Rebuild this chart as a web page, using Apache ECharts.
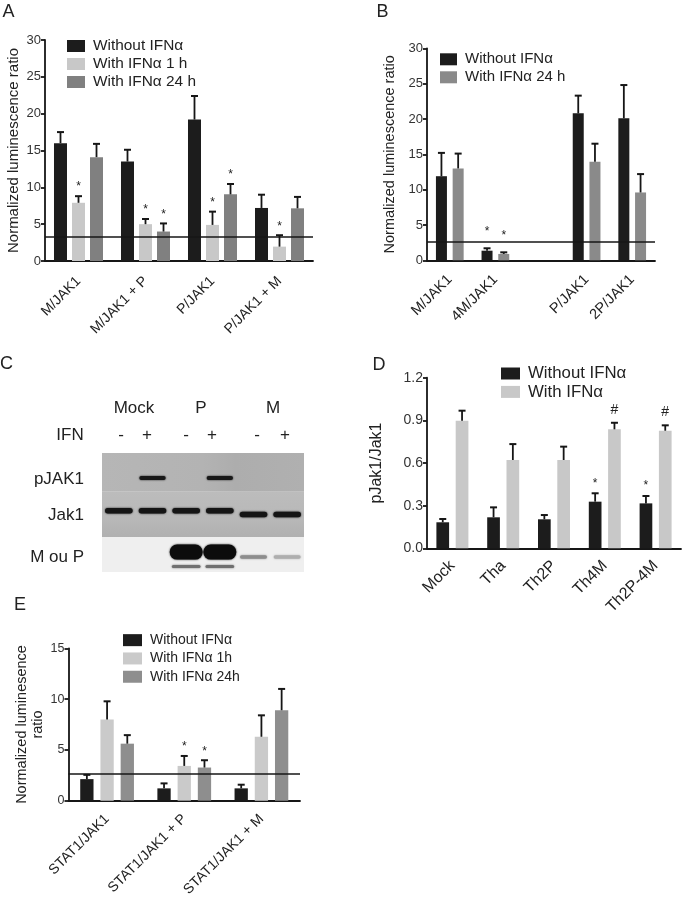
<!DOCTYPE html>
<html><head><meta charset="utf-8">
<script src="https://cdn.jsdelivr.net/npm/echarts@6/dist/echarts.min.js"></script>
<style>html,body{margin:0;padding:0;background:#fff}#c{width:685px;height:899px}</style>
</head><body><div id="c"></div>
<script>
// ---------------- DATA ----------------
// Panel A
const catsA = ['M/JAK1', 'M/JAK1 + P', 'P/JAK1', 'P/JAK1 + M'];
const aWithout = [16.0, 13.5, 19.2, 7.2];
const aWithoutErr = [17.5, 15.1, 22.4, 9.0];
const a1h = [7.9, 5.0, 4.9, 1.95];
const a1hErr = [8.8, 5.7, 6.7, 3.5];
const a24h = [14.1, 4.0, 9.05, 7.15];
const a24hErr = [15.9, 5.1, 10.45, 8.7];
const aMarksWithout = ['', '', '', ''];
const aMarks1h = ['*', '*', '*', '*'];
const aMarks24h = ['', '*', '*', ''];
const aThreshold = 3.3;
const namesA = ['Without IFNα', 'With IFNα 1 h', 'With IFNα 24 h'];

// Panel B
const catsB = ['M/JAK1', '4M/JAK1', '', 'P/JAK1', '2P/JAK1'];
const bWithout = [11.9, 1.36, '-', 20.8, 20.1];
const bWithoutErr = [15.2, 1.7, '-', 23.3, 24.8];
const b24h = [13.0, 0.9, '-', 13.95, 9.6];
const b24hErr = [15.1, 1.13, '-', 16.5, 12.2];
const bMarksWithout = ['', '*', '', '', ''];
const bMarks24h = ['', '*', '', '', ''];
const bThreshold = 2.6;
const namesB = ['Without IFNα', 'With IFNα 24 h'];

// Panel C (western blot)
const blotGroups = ['Mock', 'P', 'M'];
const blotIFN = ['-', '+', '-', '+', '-', '+'];
const blotRows = ['pJAK1', 'Jak1', 'M ou P'];
const bandPJAK1 = [0, 1, 0, 1, 0, 0];
const bandJAK1 = [1, 1, 1, 1, 1, 1];
const bandMP = [0, 0, 1, 1, 0.45, 0.3];

// Panel D
const catsD = ['Mock', 'Tha', 'Th2P', 'Th4M', 'Th2P-4M'];
const dWithout = [0.183, 0.218, 0.204, 0.328, 0.316];
const dWithoutErr = [0.206, 0.288, 0.234, 0.387, 0.368];
const dWith = [0.897, 0.621, 0.621, 0.837, 0.827];
const dWithErr = [0.968, 0.733, 0.715, 0.883, 0.865];
const dMarksWithout = ['', '', '', '*', '*'];
const dMarksWith = ['', '', '', '#', '#'];
const namesD = ['Without IFNα', 'With IFNα'];

// Panel E
const catsE = ['STAT1/JAK1', 'STAT1/JAK1 + P', 'STAT1/JAK1 + M'];
const eWithout = [2.12, 1.21, 1.21];
const eWithoutErr = [2.54, 1.70, 1.57];
const e1h = [7.99, 3.42, 6.29];
const e1hErr = [9.78, 4.4, 8.4];
const e24h = [5.61, 3.26, 8.9];
const e24hErr = [6.45, 3.98, 11.0];
const eMarksWithout = ['', '', ''];
const eMarks1h = ['', '*', ''];
const eMarks24h = ['', '*', ''];
const eThreshold = 2.6;
const namesE = ['Without IFNα', 'With IFNα 1h', 'With IFNα 24h'];

// ---------------- STYLE ----------------
const FONT = '"Liberation Sans", Arial, Helvetica, sans-serif';
const INK = '#161616';
const TXT = '#222222';
const BLACK = '#1c1c1c', LIGHT = '#c8c8c8', DARK = '#808080', MID = '#8a8a8a';

function catX(gi, cats, fs, margin) {
  return {
    type: 'category', gridIndex: gi, data: cats,
    axisLine: { lineStyle: { color: INK, width: 1.8 } },
    axisTick: { alignWithLabel: true, length: 5, lineStyle: { color: INK, width: 1.8 } },
    axisLabel: { rotate: 45, interval: 0, fontSize: fs, color: TXT, fontFamily: FONT, margin: margin },
    splitLine: { show: false }
  };
}
function valY(gi, max, interval, fs, name, nfs, gap, dec) {
  return {
    type: 'value', gridIndex: gi, min: 0, max: max, interval: interval,
    name: name, nameLocation: 'middle', nameGap: gap,
    nameTextStyle: { fontSize: nfs, color: TXT, fontFamily: FONT, lineHeight: nfs * 1.15 },
    axisLine: { show: true, lineStyle: { color: INK, width: 1.8 } },
    axisTick: { show: true, length: 4, lineStyle: { color: INK, width: 1.8 } },
    axisLabel: { fontSize: fs, color: '#333', fontFamily: FONT, margin: 4,
      formatter: v => dec ? v.toFixed(dec) : String(v) },
    splitLine: { show: false }
  };
}
function bars(name, ai, data, color, bw, gap, thr) {
  const s = {
    type: 'bar', name: name, xAxisIndex: ai, yAxisIndex: ai, data: data,
    barWidth: bw, barGap: gap, itemStyle: { color: color }, silent: true, z: 2
  };
  if (thr !== undefined) {
    s.markLine = { silent: true, symbol: 'none', label: { show: false },
      lineStyle: { color: INK, width: 1.6, type: 'solid' }, data: [{ yAxis: thr }], z: 5 };
  }
  return s;
}
function errs(ai, vals, tops, k, n, bw, gap, marks, markGap, markFs) {
  const data = vals.map((v, i) => [i, v, tops[i]]).filter(d => d[1] !== '-');
  return {
    type: 'custom', xAxisIndex: ai, yAxisIndex: ai, data: data, z: 4, silent: true, clip: false,
    renderItem: (params, api) => {
      const i = api.value(0);
      const p0 = api.coord([i, api.value(1)]);
      const p1 = api.coord([i, api.value(2)]);
      const x = p0[0] + (k - (n - 1) / 2) * bw * (1 + gap);
      const ch = [
        { type: 'line', shape: { x1: x, y1: p0[1], x2: x, y2: p1[1] }, style: { stroke: INK, lineWidth: 1.8 } },
        { type: 'line', shape: { x1: x - 3.5, y1: p1[1], x2: x + 3.5, y2: p1[1] }, style: { stroke: INK, lineWidth: 2 } }
      ];
      const m = marks[i];
      if (m) {
        ch.push({ type: 'text', style: { text: m, x: x, y: p1[1] - markGap + (m === '*' ? 3 : 0),
          align: 'center', verticalAlign: 'middle', fontSize: m === '*' ? markFs : markFs + 2,
          fill: TXT, fontFamily: FONT } });
      }
      return { type: 'group', children: ch };
    }
  };
}
function legend(names, colors, left, top, iw, fs, lh) {
  return {
    orient: 'vertical', left: left, top: top, itemWidth: iw, itemHeight: 12, itemGap: 0,
    icon: 'rect', selectedMode: false, padding: 0,
    textStyle: { fontSize: fs, color: TXT, fontFamily: FONT, lineHeight: lh, padding: [0, 0, 0, 3] },
    data: names.map((nm, i) => ({ name: nm, itemStyle: { color: colors[i] } }))
  };
}

// Blot rendering
const blotData = [];
blotRows.forEach((r, ri) => blotData.push([0, ri, 0, 0]));
[bandPJAK1, bandJAK1, bandMP].forEach((arr, ri) =>
  arr.forEach((v, li) => { if (v > 0) blotData.push([1, ri, li, v]); }));

const rowEdges = [0, 0.98, 2.12, 3];
const stripFill = [
  { type: 'linear', x: 0, y: 0, x2: 1, y2: 0, colorStops: [
    { offset: 0, color: '#b6b6b6' }, { offset: 0.5, color: '#b3b3b3' }, { offset: 0.66, color: '#adadad' }, { offset: 1, color: '#b0b0b0' }] },
  { type: 'linear', x: 0, y: 0, x2: 0, y2: 1, colorStops: [
    { offset: 0, color: '#bcbcbc' }, { offset: 0.6, color: '#b8b8b8' }, { offset: 1, color: '#b0b0b0' }] },
  '#efefef'
];
function blotItem(params, api) {
  const type = api.value(0), r = api.value(1), l = api.value(2), inten = api.value(3);
  const tl = api.coord([0, rowEdges[r]]), br = api.coord([6, rowEdges[r + 1]]);
  const rh = br[1] - tl[1];
  if (type === 0) {
    return { type: 'rect', shape: { x: tl[0], y: tl[1], width: br[0] - tl[0], height: rh }, style: { fill: stripFill[r] } };
  }
  const lL = api.coord([l, 0])[0], lR = api.coord([l + 1, 0])[0];
  const lw = lR - lL, cx = (lL + lR) / 2;
  const ch = [];
  const band = (wf, th, cf, col, blur) => ch.push({
    type: 'rect', shape: { x: cx - lw * wf / 2, y: tl[1] + cf * rh - th / 2, width: lw * wf, height: th, r: th / 2 },
    style: { fill: col, shadowBlur: blur, shadowColor: col }
  });
  if (r === 0) band(0.78, 4, 0.64, '#181818', 2);
  else if (r === 1) band(0.82, 5.5, l >= 4 ? 0.5 : 0.42, '#151515', 2);
  else {
    if (inten >= 0.9) {
      band(0.98, 15, 0.43, '#0c0c0c', 2);
      band(0.85, 3, 0.84, '#707070', 2);
    } else {
      const g = Math.round(240 - inten * 220);
      const c = 'rgb(' + g + ',' + g + ',' + g + ')';
      band(0.8, 3.5, 0.57, c, 2);
    }
  }
  return { type: 'group', children: ch };
}

// ---------------- TEXT (graphic) ----------------
const gText = (t, x, y, fs, align) => ({ type: 'text', x: x, y: y, silent: true,
  style: { text: t, fontSize: fs, fontFamily: FONT, fill: TXT, align: align || 'center', verticalAlign: 'middle' } });
const graphics = [
  gText('A', 8.5, 12.5, 18), gText('B', 382.5, 12.5, 18), gText('C', 6.5, 364, 18),
  gText('D', 379, 365, 18), gText('E', 20, 605, 18),
  gText(blotGroups[0], 134, 408, 17), gText(blotGroups[1], 201, 408, 17), gText(blotGroups[2], 273, 408, 17),
  gText('IFN', 70, 435, 17)
];
const signX = [121, 147, 186, 212, 257, 285];
blotIFN.forEach((s, i) => graphics.push(gText(s, signX[i], 435, 17)));
const rowLabelY = [479, 515, 557];
blotRows.forEach((s, i) => graphics.push(gText(s, 84, rowLabelY[i], 17, 'right')));

// ---------------- OPTION ----------------
const option = {
  animation: false,
  backgroundColor: '#fff',
  grid: [
    { left: 45, top: 40, width: 268, height: 221 },
    { left: 427, top: 48.3, width: 228, height: 212 },
    { left: 102, top: 453, width: 202, height: 119 },
    { left: 427, top: 377.7, width: 254, height: 170.6 },
    { left: 68.5, top: 648.3, width: 231.5, height: 153.4 }
  ],
  xAxis: [
    catX(0, catsA, 14, 18),
    catX(1, catsB, 14.5, 17),
    { type: 'value', gridIndex: 2, min: 0, max: 6, show: false },
    catX(3, catsD, 16, 15),
    catX(4, catsE, 14, 16)
  ],
  yAxis: [
    valY(0, 30, 5, 13, 'Normalized luminescence ratio', 15, 21),
    valY(1, 30, 5, 13, 'Normalized luminescence ratio', 14.5, 29),
    { type: 'value', gridIndex: 2, min: 0, max: 3, inverse: true, show: false },
    valY(3, 1.2, 0.3, 14, 'pJak1/Jak1', 16, 41, 1),
    valY(4, 15, 5, 12.5, 'Normalized luminesence\nratio', 14.5, 18)
  ],
  legend: [
    legend(namesA, [BLACK, LIGHT, DARK], 67, 37, 18, 15.4, 18),
    legend(namesB, [BLACK, MID], 440, 50.3, 17, 15, 18),
    legend(namesD, [BLACK, LIGHT], 501, 364.3, 19, 16.8, 18.4),
    legend(namesE, [BLACK, '#cacaca', '#8e8e8e'], 123, 631, 19, 14, 18.3)
  ],
  graphic: graphics,
  series: [
    // A
    bars(namesA[0], 0, aWithout, BLACK, 13, 0.385, aThreshold),
    bars(namesA[1], 0, a1h, LIGHT, 13, 0.385),
    bars(namesA[2], 0, a24h, DARK, 13, 0.385),
    errs(0, aWithout, aWithoutErr, 0, 3, 13, 0.385, aMarksWithout, 12, 12),
    errs(0, a1h, a1hErr, 1, 3, 13, 0.385, aMarks1h, 12, 12),
    errs(0, a24h, a24hErr, 2, 3, 13, 0.385, aMarks24h, 12, 12),
    // B
    bars(namesB[0], 1, bWithout, BLACK, 11, 0.52, bThreshold),
    bars(namesB[1], 1, b24h, MID, 11, 0.52),
    errs(1, bWithout, bWithoutErr, 0, 2, 11, 0.52, bMarksWithout, 20, 12),
    errs(1, b24h, b24hErr, 1, 2, 11, 0.52, bMarks24h, 20, 12),
    // C blot
    { type: 'custom', xAxisIndex: 2, yAxisIndex: 2, data: blotData, renderItem: blotItem, silent: true, clip: false, z: 1 },
    // D
    bars(namesD[0], 3, dWithout, BLACK, 12.7, 0.52),
    bars(namesD[1], 3, dWith, LIGHT, 12.7, 0.52),
    errs(3, dWithout, dWithoutErr, 0, 2, 12.7, 0.52, dMarksWithout, 13, 12),
    errs(3, dWith, dWithErr, 1, 2, 12.7, 0.52, dMarksWith, 13, 12),
    // E
    bars(namesE[0], 4, eWithout, BLACK, 13.3, 0.52, eThreshold),
    bars(namesE[1], 4, e1h, '#cacaca', 13.3, 0.52),
    bars(namesE[2], 4, e24h, '#8e8e8e', 13.3, 0.52),
    errs(4, eWithout, eWithoutErr, 0, 3, 13.3, 0.52, eMarksWithout, 12, 12),
    errs(4, e1h, e1hErr, 1, 3, 13.3, 0.52, eMarks1h, 12, 12),
    errs(4, e24h, e24hErr, 2, 3, 13.3, 0.52, eMarks24h, 12, 12)
  ]
};
const chart = echarts.init(document.getElementById('c'), null, { renderer: 'canvas' });
chart.setOption(option);
</script>
</body></html>
